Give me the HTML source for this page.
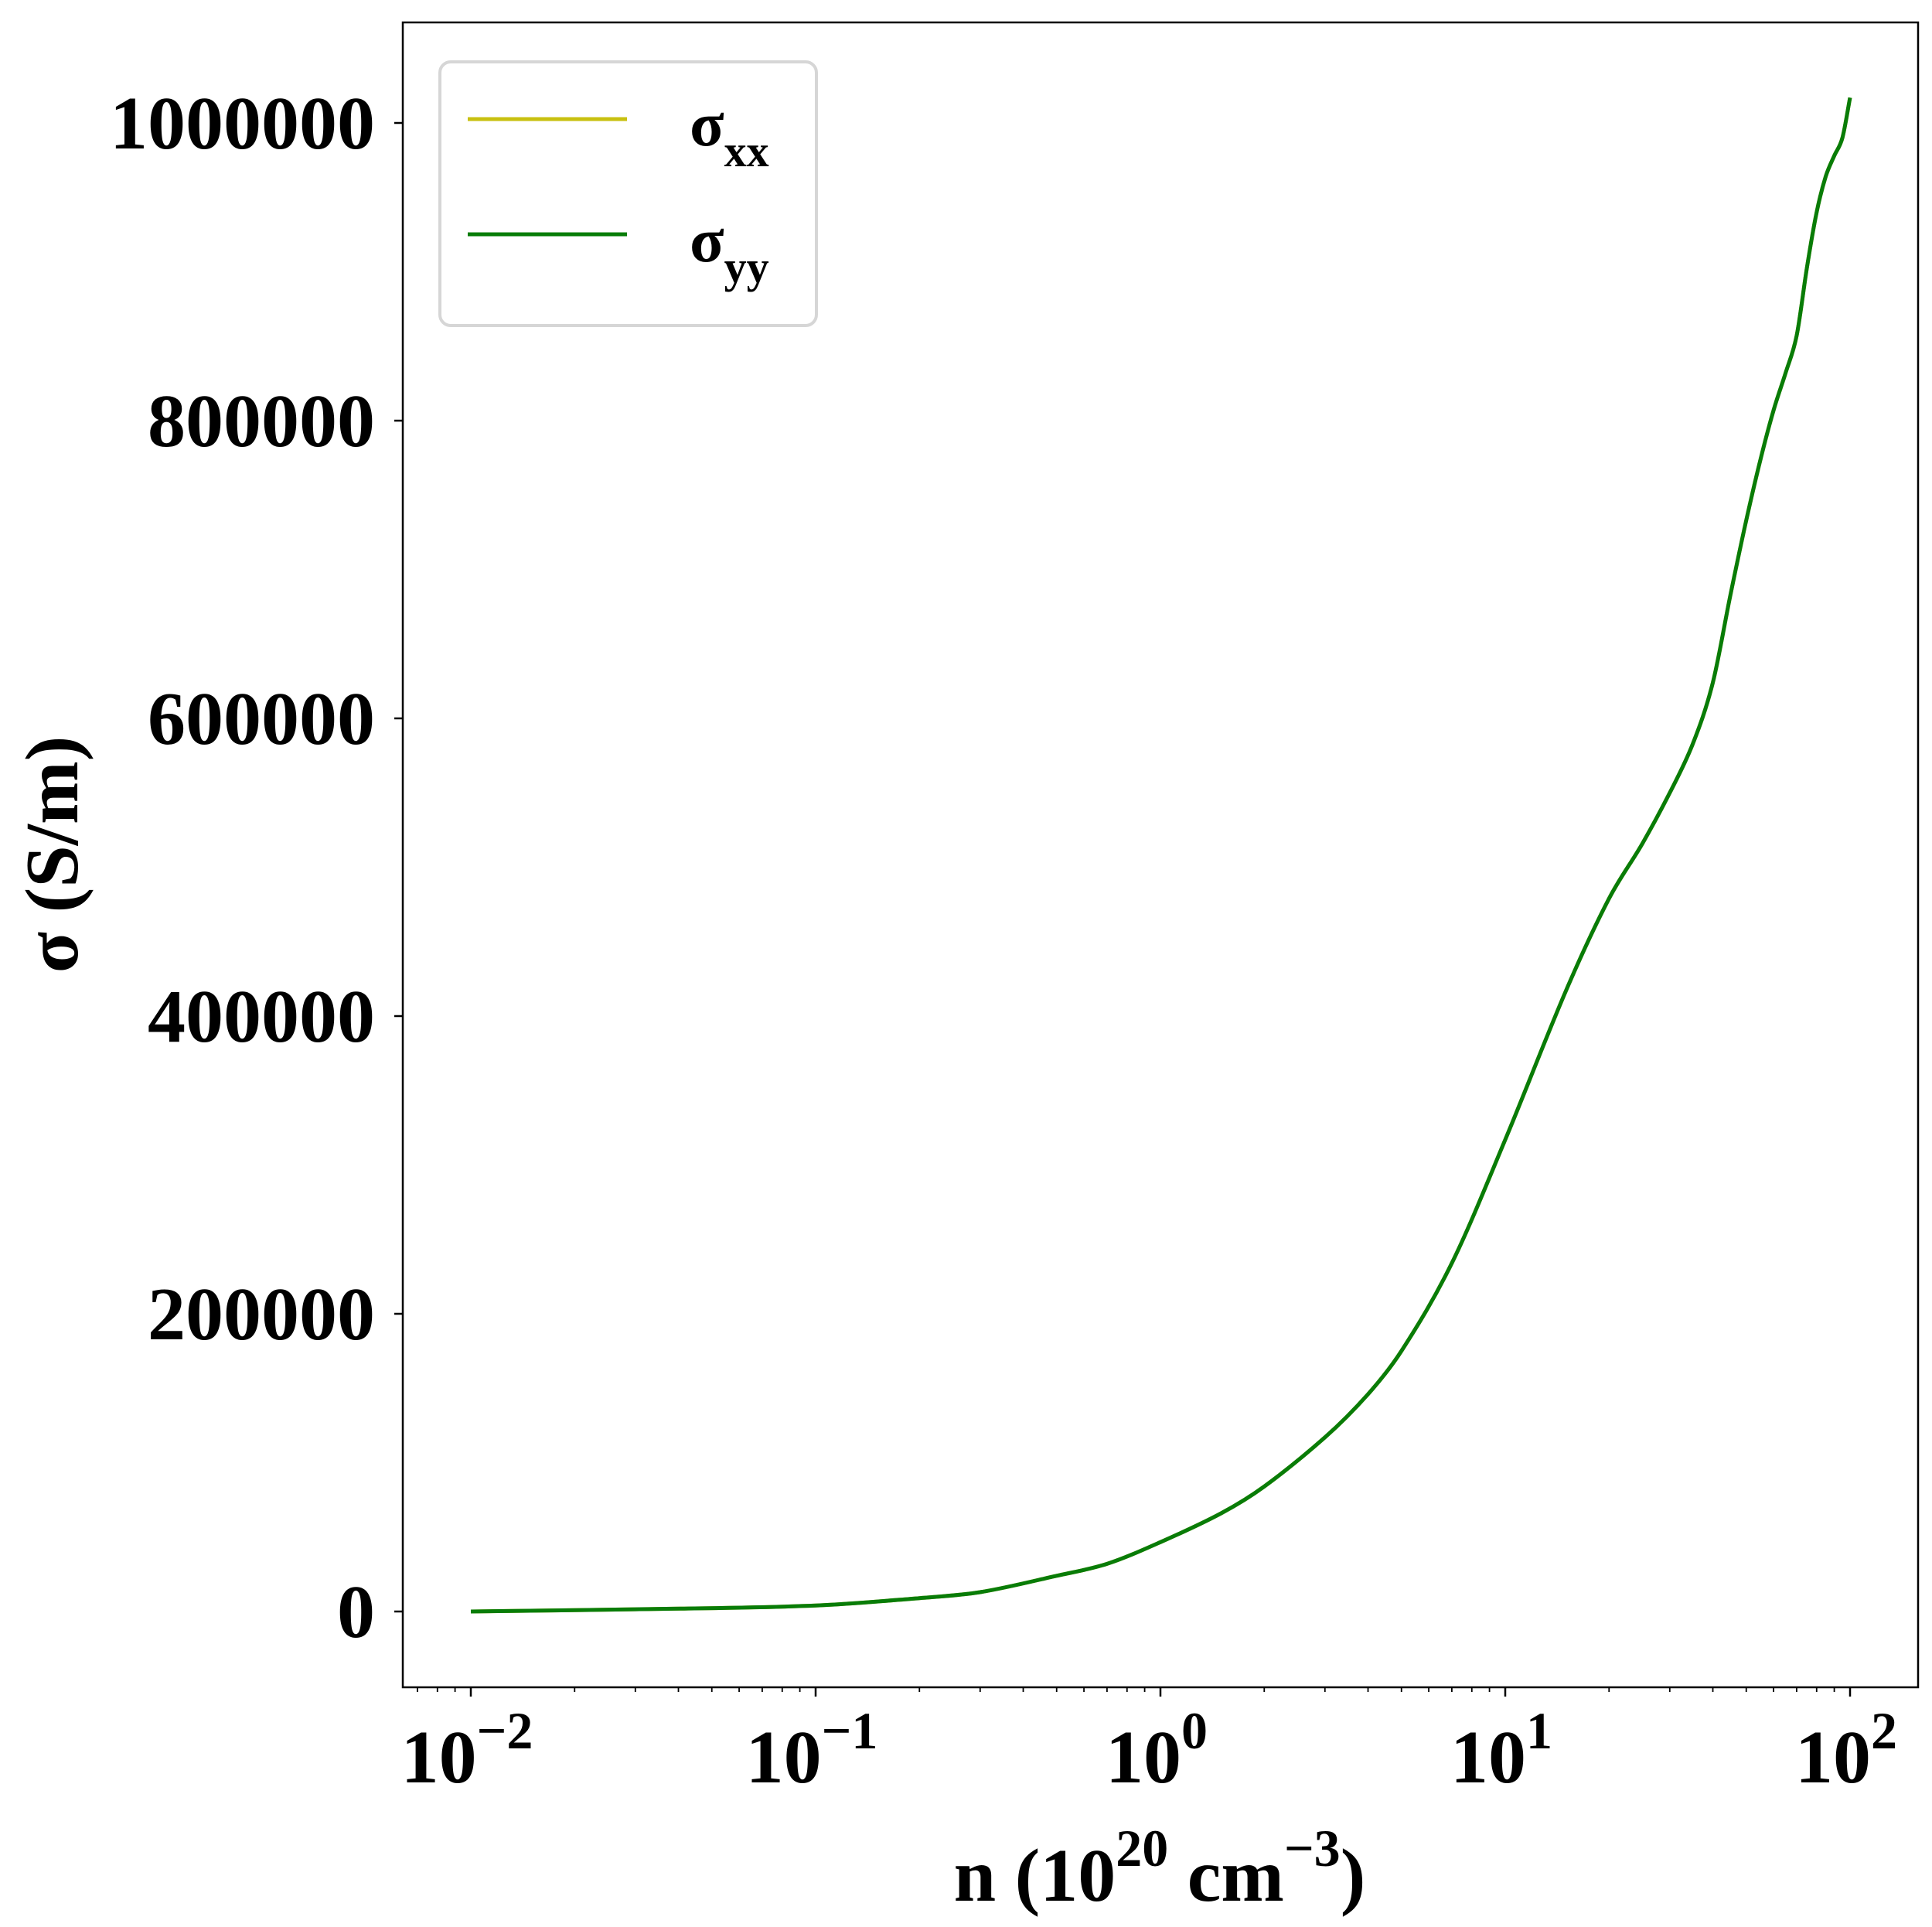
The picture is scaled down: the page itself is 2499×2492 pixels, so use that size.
<!DOCTYPE html>
<html><head><meta charset="utf-8"><style>
html,body{margin:0;padding:0;background:#fff;}
svg{display:block;font-family:"Liberation Serif",serif;font-weight:bold;}
</style></head><body>
<svg id="chart" width="2499" height="2492" viewBox="0 0 2499 2492" xmlns="http://www.w3.org/2000/svg">
<rect x="0" y="0" width="2499" height="2492" fill="#fff"/>
<g id="plot"></g>
<g id="axes"></g>
<g>
<rect x="569" y="80" width="487" height="341" rx="14" fill="#fff" stroke="#d6d6d6" stroke-width="4"/>
<line x1="605" y1="154" x2="811" y2="154" stroke="#c8c010" stroke-width="5"/>
<text x="892" y="188" font-size="82">σ<tspan font-size="58" dy="27">xx</tspan></text>
<line x1="605" y1="303" x2="811" y2="303" stroke="#087c08" stroke-width="5"/>
<text x="892" y="338" font-size="82">σ<tspan font-size="58" dy="27">yy</tspan></text>
</g>
<text transform="translate(100,1105) rotate(-90)" text-anchor="middle" font-size="98">σ (S/m)</text>
<text x="1500" y="2458" text-anchor="middle" font-size="98">n (10<tspan font-size="68" dy="-45">20</tspan><tspan dy="45"> cm</tspan><tspan font-size="68" dy="-45">−3</tspan><tspan dy="45">)</tspan></text>
</svg>
<script>
const nValues = [0.01,0.03,0.1,0.2,0.3,0.5,0.7,1,1.5,2,3,4,5,7,10,15,20,25,30,35,40,45,50,55,60,65,70,75,80,85,90,95,100];
const sigmaXX = [0,1500,4000,9000,13000,24000,32000,46600,66000,84000,117000,146000,175000,234000,317000,417000,479000,516000,550000,583000,624000,683000,733000,774000,807000,832000,857000,903000,940000,964000,978000,990000,1017000];
const sigmaYY = [0,1500,4000,9000,13000,24000,32000,46600,66000,84000,117000,146000,175000,234000,317000,417000,479000,516000,550000,583000,624000,683000,733000,774000,807000,832000,857000,903000,940000,964000,978000,990000,1017000];
const yTicks = [0,200000,400000,600000,800000,1000000];
const xTickExps = [-2,-1,0,1,2];

const L=521,R=2481,T=29,B=2182;
const xDecade=446, x0=609;
function X(n){return x0+(Math.log10(n)+2)*xDecade;}
function Y(v){return 2084-(v/1000000)*1925;}
const NS="http://www.w3.org/2000/svg";
function mk(tag,attrs,parent){const e=document.createElementNS(NS,tag);for(const k in attrs)e.setAttribute(k,attrs[k]);if(parent)parent.appendChild(e);return e;}
const plot=document.getElementById('plot'), axes=document.getElementById('axes');

function pathFor(vals){
  const pts=nValues.map((n,i)=>[X(n),Y(vals[i])]);
  let d="M"+pts[0][0].toFixed(1)+","+pts[0][1].toFixed(1);
  for(let i=0;i<pts.length-1;i++){
    const p0=pts[Math.max(0,i-1)],p1=pts[i],p2=pts[i+1],p3=pts[Math.min(pts.length-1,i+2)];
    const h=p2[0]-p1[0];
    const s1=(p2[1]-p0[1])/((p2[0]-p0[0])||1), s2=(p3[1]-p1[1])/((p3[0]-p1[0])||1);
    const c1=[p1[0]+h/3,p1[1]+s1*h/3];
    const c2=[p2[0]-h/3,p2[1]-s2*h/3];
    d+="C"+c1.map(v=>v.toFixed(1)).join(",")+" "+c2.map(v=>v.toFixed(1)).join(",")+" "+p2.map(v=>v.toFixed(1)).join(",");
  }
  return d;
}
const lx=mk('path',{d:pathFor(sigmaXX),fill:'none',stroke:'#c8c010','stroke-width':5},plot);


const ly=mk('path',{d:pathFor(sigmaYY),fill:'none',stroke:'#087c08','stroke-width':5},plot);



const frame=mk('rect',{x:L,y:T,width:R-L,height:B-T,fill:'none',stroke:'#000','stroke-width':2.5},axes);



yTicks.forEach(v=>{
  const y=Y(v);
  const t=mk('line',{x1:L-11,y1:y,x2:L,y2:y,stroke:'#000','stroke-width':2.5},axes);
  
  
  const lb=mk('text',{x:485,y:y+33,'text-anchor':'end','font-size':98},axes);
  lb.textContent=String(v);
  
  
});
xTickExps.forEach(e=>{
  const x=X(Math.pow(10,e));
  const t=mk('line',{x1:x,y1:B,x2:x,y2:B+12,stroke:'#000','stroke-width':2.5},axes);
  
  
  const lb=mk('text',{x:x-5,y:2305,'text-anchor':'middle','font-size':98},axes);
  
  
  const base=mk('tspan',{},lb); base.textContent='10';
  const sup=mk('tspan',{'font-size':68,dy:-44},lb);
  sup.textContent=(e<0?'−':'')+Math.abs(e);
  for(let m=2;m<=9;m++){
    const xm=X(m*Math.pow(10,e)); if(xm>R) continue;
    const mt=mk('line',{x1:xm,y1:B,x2:xm,y2:B+6,stroke:'#000','stroke-width':1.8},axes);
    
    
  }
  if(e===-2){for(let m=6;m<=9;m++){const xm=X(m*0.001);if(xm<L)continue;
    const mt=mk('line',{x1:xm,y1:B,x2:xm,y2:B+6,stroke:'#000','stroke-width':1.8},axes);
    
    }}
});
</script>
</body></html>
